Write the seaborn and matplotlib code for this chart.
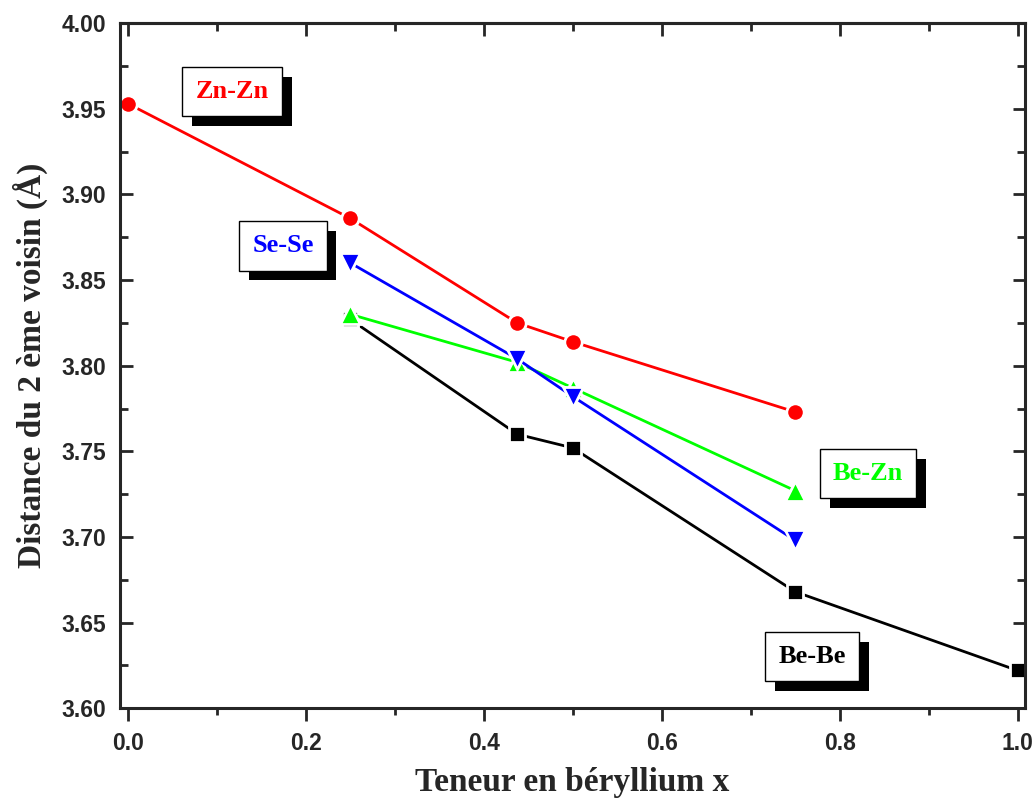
import matplotlib
matplotlib.use("Agg")
import matplotlib.pyplot as plt
import matplotlib.patheffects as pe
from matplotlib.ticker import MultipleLocator
import seaborn as sns

# Données
x_zn = [0.0, 0.25, 0.4375, 0.5, 0.75]
y_zn = [3.953, 3.886, 3.825, 3.814, 3.773]

x_se = [0.25, 0.4375, 0.5, 0.75]
y_se = [3.860, 3.804, 3.782, 3.698]

x_bezn = [0.25, 0.4375, 0.5, 0.75]
y_bezn = [3.830, 3.802, 3.787, 3.727]

x_bebe = [0.25, 0.4375, 0.5, 0.75, 1.0]
y_bebe = [3.827, 3.760, 3.752, 3.668, 3.622]

sns.set_style("ticks")
plt.rcParams['font.family'] = ['Liberation Sans', 'DejaVu Sans']

fig = plt.figure(figsize=(10.35, 8.02), dpi=100)
ax = fig.add_axes([0.116, 0.117, 0.874, 0.854])

# ordre de tracé : noir, vert, bleu, rouge
series = [
    (x_bebe, y_bebe, 'black', 's', 12),
    (x_bezn, y_bezn, '#00ff00', '^', 15),
    (x_se, y_se, '#0000ff', 'v', 15),
    (x_zn, y_zn, '#ff0000', 'o', 12.5),
]
for xs, ys, col, mk, ms in series:
    sns.lineplot(x=xs, y=ys, color=col, marker=mk, markersize=ms,
                 markeredgecolor='white', markeredgewidth=2,
                 linewidth=2, sort=False, ax=ax)

ax.set_xlim(-0.009, 1.008)
ax.set_ylim(3.60, 4.00)
ax.xaxis.set_major_locator(MultipleLocator(0.2))
ax.xaxis.set_minor_locator(MultipleLocator(0.1))
ax.yaxis.set_major_locator(MultipleLocator(0.05))
ax.yaxis.set_minor_locator(MultipleLocator(0.025))
ax.xaxis.set_major_formatter(plt.FormatStrFormatter('%.1f'))
ax.yaxis.set_major_formatter(plt.FormatStrFormatter('%.2f'))

for sp in ax.spines.values():
    sp.set_linewidth(2.2)
    sp.set_visible(True)

ax.tick_params(axis='x', which='both', direction='out', bottom=True, top=False,
               width=2, labelsize=16.5, pad=8)
ax.tick_params(axis='x', which='major', length=9)
ax.tick_params(axis='x', which='minor', length=5)
ax.tick_params(axis='y', which='both', direction='in', left=True, right=True,
               width=2, labelsize=16.5, pad=10)
ax.tick_params(axis='y', which='major', length=9)
ax.tick_params(axis='y', which='minor', length=6)
for lab in ax.get_xticklabels() + ax.get_yticklabels():
    lab.set_fontweight('bold')

top = ax.secondary_xaxis('top')
top.xaxis.set_major_locator(MultipleLocator(0.2))
top.xaxis.set_minor_locator(MultipleLocator(0.1))
top.tick_params(axis='x', which='both', direction='in', width=2, labeltop=False)
top.tick_params(axis='x', which='major', length=9)
top.tick_params(axis='x', which='minor', length=6)
top.spines['top'].set_linewidth(2.2)

serif = ['Liberation Serif', 'DejaVu Serif']
ax.set_xlabel("Teneur en béryllium x", family=serif, fontweight='bold',
              fontsize=24, labelpad=9)
ax.set_ylabel("Distance du 2 ème voisin (Å)", family=serif, fontweight='bold',
              fontsize=24, labelpad=10)

# étiquettes encadrées avec ombre
labels = ["Zn-Zn", "Se-Se", "Be-Zn", "Be-Be"]
label_x = [0.117, 0.174, 0.832, 0.769]
label_y = [3.960, 3.870, 3.737, 3.630]
label_col = ['#ff0000', '#0000ff', '#00ff00', 'black']

for t, lx, ly, c in zip(labels, label_x, label_y, label_col):
    txt = ax.text(lx, ly, t, family=serif, fontweight='bold', fontsize=19, color=c,
                  ha='center', va='center',
                  bbox=dict(boxstyle='square,pad=0.5', fc='white', ec='black', lw=1))
    txt.get_bbox_patch().set_path_effects([
        pe.SimplePatchShadow(offset=(7, -7), shadow_rgbFace='black', alpha=1),
        pe.Normal()])

fig.savefig("out.png", dpi=100)
